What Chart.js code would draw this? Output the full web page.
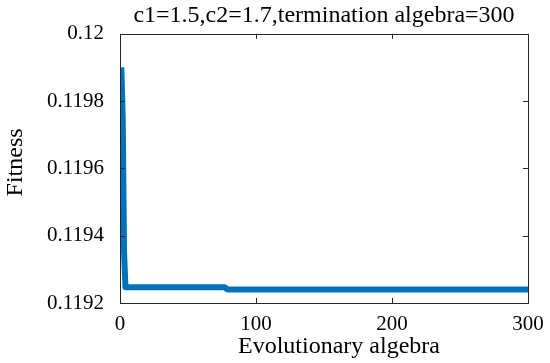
<!DOCTYPE html>
<html><head><meta charset="utf-8">
<script src="https://cdn.jsdelivr.net/npm/chart.js@4/dist/chart.umd.min.js"></script>
<style>html,body{margin:0;padding:0;background:#fff}#wrap{width:550px;height:363px}</style>
</head><body><div id="wrap"><canvas id="c"></canvas></div>
<script>
const generations = [1, 2, 3, 4, 77, 79, 300];
const fitness = [0.11990, 0.11975, 0.11935, 0.119247, 0.119247, 0.119240, 0.119240];
const xTicks = [0, 100, 200, 300];
const yTicks = [0.1192, 0.1194, 0.1196, 0.1198, 0.12];
const titleText = 'c1=1.5,c2=1.7,termination algebra=300';
const xLabel = 'Evolutionary algebra';
const yLabel = 'Fitness';

const FONT = "'Liberation Serif', 'Times New Roman', serif";
const AXC = '#262626';

const frame = {
  id: 'frame',
  afterDatasetsDraw(chart) {
    const {ctx, chartArea: a, scales: {x, y}} = chart;
    ctx.save();
    ctx.strokeStyle = AXC;
    ctx.lineWidth = 1;
    ctx.strokeRect(Math.round(a.left) + 0.5, Math.round(a.top) + 0.5, Math.round(a.right - a.left), Math.round(a.bottom - a.top));
    const L = 5;
    ctx.beginPath();
    xTicks.forEach(v => {
      const px = Math.round(x.getPixelForValue(v)) + 0.5;
      ctx.moveTo(px, a.bottom); ctx.lineTo(px, a.bottom - L);
      ctx.moveTo(px, a.top); ctx.lineTo(px, a.top + L);
    });
    yTicks.forEach(v => {
      const py = Math.round(y.getPixelForValue(v)) + 0.5;
      ctx.moveTo(a.left, py); ctx.lineTo(a.left + L, py);
      ctx.moveTo(a.right, py); ctx.lineTo(a.right - L, py);
    });
    ctx.stroke();
    // axis titles
    ctx.fillStyle = '#000';
    ctx.font = '24px ' + FONT;
    ctx.textAlign = 'center';
    ctx.textBaseline = 'alphabetic';
    ctx.fillText(xLabel, (a.left + a.right) / 2 + 15, a.bottom + 50);
    ctx.translate(22, (a.top + a.bottom) / 2 - 6);
    ctx.rotate(-Math.PI / 2);
    ctx.fillText(yLabel, 0, 0);
    ctx.restore();
  }
};

new Chart(document.getElementById('c'), {
  type: 'line',
  data: {
    datasets: [{
      data: generations.map((g, i) => ({x: g, y: fitness[i]})),
      borderColor: '#0072BD',
      borderWidth: 6,
      pointRadius: 0,
      tension: 0,
      fill: false,
      borderJoinStyle: 'round',
      borderCapStyle: 'butt'
    }]
  },
  options: {
    responsive: true,
    maintainAspectRatio: false,
    animation: false,
    layout: {padding: {left: 0, right: 22, top: 0, bottom: 0}},
    plugins: {
      legend: {display: false},
      tooltip: {enabled: false},
      title: {
        display: true, text: titleText, fullSize: false,
        color: '#000', font: {family: FONT, size: 24, weight: 'normal'},
        padding: {top: 1, bottom: 4}
      }
    },
    scales: {
      x: {
        type: 'linear', min: 0, max: 300,
        afterBuildTicks: s => { s.ticks = xTicks.map(v => ({value: v})); },
        grid: {display: false},
        border: {display: false},
        ticks: {color: '#000', font: {family: FONT, size: 21}, padding: 1, maxRotation: 0},
        title: {display: false},
        afterFit: s => { s.height = 60; }
      },
      y: {
        min: 0.1192, max: 0.12,
        afterBuildTicks: s => { s.ticks = yTicks.map(v => ({value: v})); },
        grid: {display: false},
        border: {display: false},
        ticks: {color: '#000', font: {family: FONT, size: 21}, padding: 8,
          callback: v => String(parseFloat(Number(v).toFixed(4)))},
        title: {display: false},
        afterFit: s => { s.width = 120; }
      }
    }
  },
  plugins: [frame]
});
</script>
</body></html>
